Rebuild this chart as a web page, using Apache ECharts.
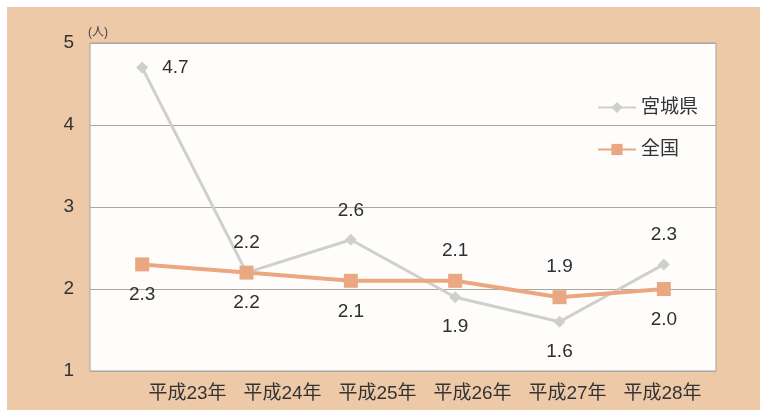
<!DOCTYPE html>
<html><head><meta charset="utf-8">
<script src="https://cdn.jsdelivr.net/npm/echarts@6/dist/echarts.min.js"></script>
<style>html,body{margin:0;padding:0;background:#fff}#c{width:760px;height:410px}</style>
</head><body><div id="c"></div>
<script>
var categories = ['平成23年','平成24年','平成25年','平成26年','平成27年','平成28年'];
var miyagi = [4.7, 2.2, 2.6, 1.9, 1.6, 2.3];
var zenkoku = [2.3, 2.2, 2.1, 2.1, 1.9, 2.0];
var miyagiLabelPos = ['right','top','top','bottom','bottom','top'];
var zenkokuLabelPos = ['bottom','bottom','bottom','top','top','bottom'];
var yTicks = [1,2,3,4,5];

var FONT = '"Liberation Sans","Noto Sans CJK JP",sans-serif';
function mk(vals, pos){
  return vals.map(function(v,i){return {value:v, label:{position:pos[i]}};});
}
var chart = echarts.init(document.getElementById('c'));
chart.setOption({
  backgroundColor:'#ffffff',
  animation:false,
  graphic:[{type:'rect',shape:{x:7,y:7,width:760,height:410},style:{fill:'#edc9a8'},z:-10}],
  grid:[
    {left:90,right:44,top:43,bottom:39,show:true,backgroundColor:'#fefdfb',borderColor:'#a9a39c',borderWidth:1},
    {left:140,right:50,top:43,bottom:39,show:false}
  ],
  legend:{orient:'vertical',left:592,top:93,itemGap:23,itemWidth:38,itemHeight:14,
    textStyle:{fontSize:19,color:'#333',fontFamily:FONT},
    data:['宮城県','全国']},
  xAxis:[
    {type:'category',data:categories,boundaryGap:true,gridIndex:0,
      axisLine:{show:false},axisTick:{show:false},axisLabel:{show:false}},
    {type:'category',data:categories,boundaryGap:true,gridIndex:1,
      axisLine:{show:false},axisTick:{show:false},
      axisLabel:{interval:0,fontSize:19,color:'#333',margin:13,fontFamily:FONT}}
  ],
  yAxis:[
    {type:'value',min:1,max:5,interval:1,gridIndex:0,
      name:'(人)',nameLocation:'end',nameGap:4,
      nameTextStyle:{fontSize:12,color:'#444',align:'left',padding:[0,0,0,-2],fontFamily:FONT},
      axisLine:{show:false},axisTick:{show:false},
      axisLabel:{fontSize:19,color:'#333',margin:16,fontFamily:FONT},
      splitLine:{lineStyle:{color:'#aaa6a0',width:1.2}}},
    {type:'value',min:1,max:5,interval:1,gridIndex:1,show:false}
  ],
  series:[
    {name:'宮城県',type:'line',data:mk(miyagi,miyagiLabelPos),xAxisIndex:0,yAxisIndex:0,
      symbol:'diamond',symbolSize:12,
      lineStyle:{color:'#cfcfcd',width:3},
      itemStyle:{color:'#cfcfcd'},
      label:{show:true,fontSize:19,color:'#2f2f2f',distance:14,fontFamily:FONT,formatter:function(p){return p.value.toFixed(1);}},
      z:2},
    {name:'全国',type:'line',data:mk(zenkoku,zenkokuLabelPos),xAxisIndex:0,yAxisIndex:0,
      symbol:'rect',symbolSize:14,
      lineStyle:{color:'#eaa882',width:4},
      itemStyle:{color:'#eaa882'},
      label:{show:true,fontSize:19,color:'#2f2f2f',distance:14,fontFamily:FONT,formatter:function(p){return p.value.toFixed(1);}},
      z:3}
  ]
});
</script></body></html>
